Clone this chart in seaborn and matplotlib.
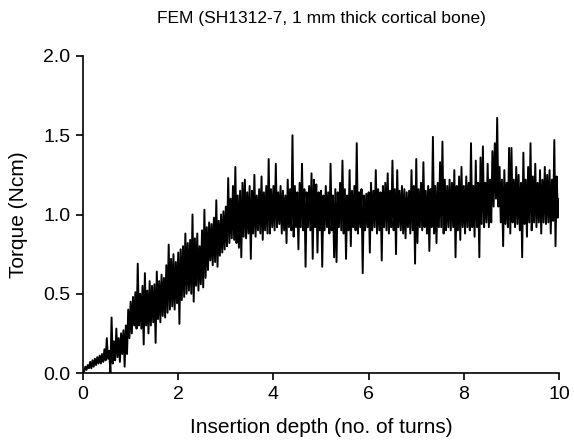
import numpy as np
import pandas as pd
import matplotlib
matplotlib.use("Agg")
import matplotlib.pyplot as plt
import seaborn as sns

title = "FEM (SH1312-7, 1 mm thick cortical bone)"
x_label = "Insertion depth (no. of turns)"
y_label = "Torque (Ncm)"
x_ticks = [0, 2, 4, 6, 8, 10]
y_ticks = [0.0, 0.5, 1.0, 1.5, 2.0]

step = 0.025  # sampling interval along insertion depth (turns)
torque = [
    0.00, 0.01, 0.04, 0.02, 0.05, 0.03, 0.07, 0.03, 0.08, 0.04,
    0.09, 0.05, 0.10, 0.06, 0.11, 0.06, 0.12, 0.07, 0.15, 0.08,
    0.22, 0.09, 0.14, 0.00, 0.35, 0.06, 0.20, 0.08, 0.28, 0.10,
    0.22, 0.07, 0.25, 0.12, 0.27, 0.04, 0.30, 0.12, 0.40, 0.22,
    0.45, 0.25, 0.48, 0.30, 0.51, 0.28, 0.69, 0.30, 0.50, 0.28,
    0.55, 0.18, 0.63, 0.30, 0.52, 0.25, 0.58, 0.30, 0.55, 0.32,
    0.56, 0.19, 0.64, 0.34, 0.58, 0.32, 0.62, 0.36, 0.60, 0.35,
    0.68, 0.38, 0.81, 0.40, 0.72, 0.42, 0.75, 0.40, 0.70, 0.44,
    0.76, 0.31, 0.78, 0.46, 0.80, 0.48, 0.88, 0.50, 0.82, 0.52,
    0.84, 0.50, 1.00, 0.45, 0.85, 0.55, 0.88, 0.52, 0.80, 0.56,
    0.90, 0.54, 1.03, 0.60, 0.92, 0.65, 0.95, 0.71, 0.94, 0.68,
    0.98, 0.70, 1.09, 0.67, 0.96, 0.74, 1.00, 0.76, 1.02, 0.78,
    1.05, 0.80, 1.23, 0.82, 1.10, 0.85, 1.18, 0.84, 1.30, 0.82,
    1.12, 0.79, 1.15, 0.73, 1.20, 0.86, 1.22, 0.85, 1.14, 0.88,
    1.18, 0.72, 1.15, 0.88, 1.25, 0.86, 1.12, 0.90, 1.16, 0.88,
    1.24, 0.84, 1.14, 0.90, 1.18, 0.88, 1.35, 0.88, 1.16, 0.92,
    1.18, 0.90, 1.32, 0.92, 1.14, 0.94, 1.18, 0.88, 1.15, 0.90,
    1.12, 0.82, 1.22, 0.92, 1.16, 0.90, 1.50, 0.86, 1.18, 0.92,
    1.14, 0.78, 1.20, 0.92, 1.32, 0.90, 1.16, 0.67, 1.14, 0.92,
    1.18, 0.90, 1.26, 0.72, 1.22, 0.92, 1.19, 0.76, 1.14, 0.90,
    1.15, 0.67, 1.12, 0.90, 1.18, 0.92, 1.14, 0.88, 1.32, 0.90,
    1.12, 0.73, 1.16, 0.70, 1.14, 0.92, 1.20, 0.90, 1.34, 0.88,
    1.16, 0.72, 1.12, 0.90, 1.28, 0.80, 1.15, 0.92, 1.18, 0.90,
    1.45, 0.88, 1.14, 0.92, 1.16, 0.63, 1.12, 0.90, 1.13, 0.92,
    1.14, 0.76, 1.20, 0.90, 1.15, 0.92, 1.28, 0.88, 1.16, 0.90,
    1.14, 0.71, 1.18, 0.92, 1.20, 0.90, 1.26, 0.88, 1.15, 0.92,
    1.34, 0.90, 1.16, 0.75, 1.28, 0.92, 1.15, 0.90, 1.18, 0.88,
    1.16, 0.85, 1.14, 0.92, 1.15, 0.88, 1.28, 0.90, 1.18, 0.69,
    1.35, 0.82, 1.16, 0.92, 1.20, 0.90, 1.33, 0.92, 1.15, 0.88,
    1.18, 0.77, 1.16, 0.92, 1.49, 0.88, 1.18, 0.82, 1.20, 0.92,
    1.33, 0.92, 1.46, 0.88, 1.22, 0.90, 1.18, 0.92, 1.22, 0.90,
    1.20, 0.92, 1.28, 0.73, 1.18, 0.90, 1.24, 0.84, 1.30, 0.92,
    1.18, 0.88, 1.24, 0.92, 1.20, 0.90, 1.45, 0.92, 1.18, 0.86,
    1.34, 0.92, 1.20, 0.73, 1.36, 0.94, 1.43, 0.92, 1.20, 0.95,
    1.32, 0.92, 1.22, 0.95, 1.40, 1.05, 1.45, 1.10, 1.61, 1.05,
    1.30, 0.95, 1.22, 0.80, 1.28, 0.94, 1.20, 0.92, 1.42, 0.88,
    1.42, 0.95, 1.22, 0.92, 1.30, 0.94, 1.25, 0.90, 1.20, 0.73,
    1.39, 0.94, 1.22, 0.86, 1.30, 0.95, 1.45, 0.90, 1.24, 0.95,
    1.32, 0.92, 1.20, 0.95, 1.28, 0.88, 1.22, 0.95, 1.30, 0.94,
    1.25, 0.95, 1.28, 0.88, 1.22, 0.96, 1.47, 0.80, 1.24, 0.98,
    1.10,
]
depth = np.round(np.arange(len(torque)) * step, 4)

df = pd.DataFrame({"depth": depth, "torque": torque})

sns.set_theme(style="ticks")
plt.rcParams["font.family"] = ["Liberation Sans", "DejaVu Sans"]

fig = plt.figure(figsize=(5.74, 4.48), dpi=100)
ax = fig.add_axes([0.1446, 0.1674, 0.8294, 0.7076])

sns.lineplot(data=df, x="depth", y="torque", color="black", linewidth=1.4,
             sort=False, estimator=None, ax=ax)

ax.set_xlim(0, 10)
ax.set_ylim(0, 2.0)
ax.set_xticks(x_ticks)
ax.set_xticklabels([str(t) for t in x_ticks])
ax.set_yticks(y_ticks)
ax.set_yticklabels([f"{t:.1f}" for t in y_ticks])
ax.tick_params(axis="both", labelsize=14, colors="black", length=5, width=1.2,
               pad=4, direction="out")
for side in ["top", "right"]:
    ax.spines[side].set_visible(False)
for side in ["left", "bottom"]:
    ax.spines[side].set_color("black")
    ax.spines[side].set_linewidth(1.2)

ax.set_xlabel(x_label, fontsize=15, color="black", labelpad=11)
ax.set_ylabel(y_label, fontsize=15, color="black", labelpad=11)
ax.set_title(title, fontsize=12.5, color="black", pad=24)

fig.savefig("out.png", dpi=100, facecolor="white")
